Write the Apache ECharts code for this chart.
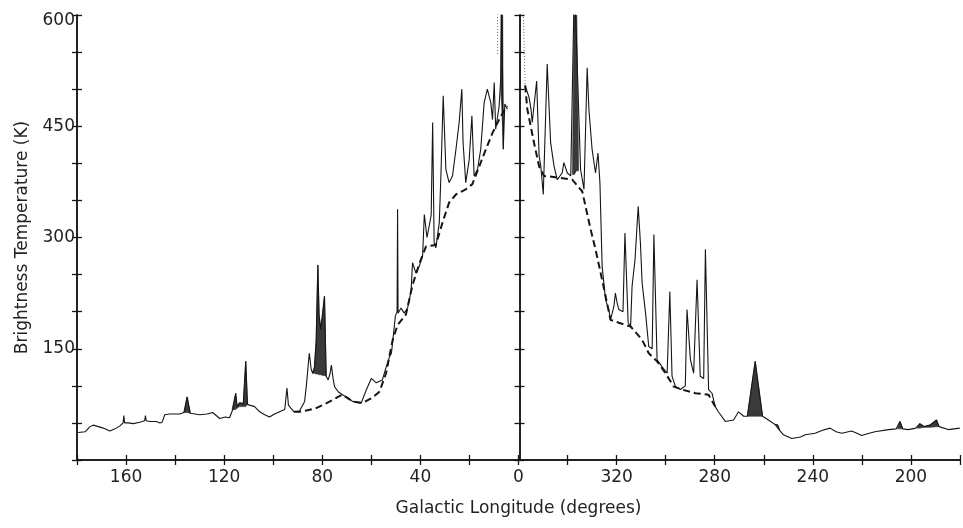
<!DOCTYPE html>
<html><head><meta charset="utf-8">
<script src="https://cdn.jsdelivr.net/npm/echarts@6/dist/echarts.min.js"></script>
<style>html,body{margin:0;padding:0;background:#fff}#c{width:963px;height:528px}</style>
</head><body><div id="c"></div>
<script>
// Tick labels shown on the longitude axis (degrees)
const tickLabels = [160, 120, 80, 40, 0, 320, 280, 240, 200];
const yTickLabels = [150, 300, 450, 600];

// Observed brightness temperature along the galactic plane (longitude deg, T in K); null = gap
const obsLon = [179.5,176.7,174.7,173.4,171.3,169.3,166.6,164.5,162.5,161.2,160.9,160.6,159.1,157.1,154.4,152.4,152.1,151.8,150.3,147.6,146.2,145.3,144.2,142.2,138.1,136.4,135.1,133.8,130,127,124.7,121.8,119.5,117.8,116.5,115.3,114.7,113.7,112.2,111.2,110.5,109.6,107.6,105.5,103.5,101.5,99.5,97.4,95.3,94.4,93.8,92.8,91.5,89.3,87.2,86.5,85.3,84.5,83.9,83.2,82.5,81.8,81.3,80.6,79.8,79.1,78.4,77.6,76.8,76.3,75.6,75,73.5,71.8,69.5,67.7,65,64.1,62,60,58,55.5,53.9,52.5,51.8,50.2,49.5,49.3,49.1,47.9,46.6,45.2,43.8,43.2,41.8,40.5,39.1,38.4,37.3,35.6,35,34.4,33.7,32.3,31.6,30.7,29.6,28.3,26.9,25.5,24.2,23.1,22.6,21.5,20.1,19,18.1,16.7,15.4,14,12.7,11.3,10.6,9.9,9.3,7.9,7.2,6.9,6.5,6.2,5.6,4.5,
  2,
  357.3,355.7,354.9,354.4,352.6,351.6,350.9,349.9,348.3,346.9,345.5,344.2,342.2,341.5,340.1,338.7,337.2,336.4,334.7,333.3,332,331.3,330,328.6,327.6,326.8,325.9,324.5,323.2,322.5,321.1,320.5,319.8,319.1,317.4,316.6,315.3,314.3,313.7,312.5,311.2,310.3,309.6,308.2,306.9,305.5,304.8,303.5,301.5,299.4,298.3,297.4,296,294,292,291.3,289.9,288.6,287.2,285.9,284.5,283.8,282.5,281.1,279.8,278.5,275.7,272.3,270.3,268.2,266.7,263.5,260.5,258.1,255.5,254.3,253.5,252,248.6,245,243.1,239.1,236,233,230.5,228.2,224.2,222,220.1,217,214.7,209.2,206,204.5,203.3,201.1,198,196.4,194.5,192.3,189.6,188.5,184.8,180.1];
const obsT = [37,38,45,47,45,43,39,42,46,50,60,50,50,49,51,53,60,53,52,52,50,51,61,62,62,64,85,63,61,62,64,56,58,57,68,90,72,77,76,133,75,74,72,65,61,58,62,65,68,97,74,70,65,66,79,100,144,122,117,125,160,263,195,176,200,221,113,108,117,128,110,99,92,88,84,79,77,77,95,110,104,108,126,140,144,194,200,338,198,205,198,205,228,266,252,261,275,331,300,330,455,293,286,320,387,491,392,374,383,419,455,500,428,374,405,464,383,392,419,482,500,482,459,509,446,477,516,650,650,419,480,473,
  null,
  505,489,473,455,511,410,396,358,534,428,396,378,387,401,387,383,650,650,392,365,529,473,419,387,414,374,261,216,203,189,207,225,212,203,200,306,185,180,234,270,342,293,239,198,153,150,304,135,126,117,227,113,99,95,100,203,135,117,243,113,110,284,95,90,72,65,52,54,65,59,59,133,59,54,48,47,40,34,29,31,34,36,40,43,38,36,39,36,33,36,38,41,42,52,42,41,43,49,45,47,54,45,41,43];

// Dashed background (continuum) curve near the inner galaxy
const baseLon = [91.5,89.3,86,82.5,79.8,75.7,73,71.8,67.7,63.6,59.6,56.7,54,51.3,49.3,45.9,43.2,40.5,37.7,33.7,31,28.3,25.5,21.5,18.8,16,13.3,10.6,7.9,5.9,4.5,
  2,
  357.3,356.4,353.7,351.6,349.6,344.2,338.1,334,330.6,328.6,326.5,324.5,322.5,319.1,314.3,309.6,306.9,303.5,300.1,296.7,293.3,287.9,282.5,279.8];
const baseT = [65,65,67,70,74,81,86,88,79,77,84,92,117,162,182,196,236,264,288,290,320,347,358,365,372,396,419,441,459,471,477,
  null,
  505,473,428,396,383,381,378,362,311,284,252,221,189,185,180,162,144,133,117,99,95,90,88,72];

// Dotted saturated traces near the galactic centre
const dotLon = [8.6, 8.5, 2, 358.4, 357.3];
const dotT = [650, 545, null, 650, 505];

// Shaded (discrete source) regions: longitude, upper and lower temperature
const fillLon = [
  [136.4,135.1,133.8],
  [116.8,115.3,114.7,113.7,112.2,111.2,110.5],
  [83.9,83.2,82.5,81.8,81.3,80.6,79.8,79.1,78.4],
  [7.3,6.9,6.5,6.2],
  [338.0,337.2,336.4,335.5],
  [266.7,263.5,260.5],
  [255.5,254.3,253.5],
  [205.5,204.5,203.3],
  [197.5,196.4,194.5,192.3,189.6,188.5]
];
const fillTop = [
  [64,85,63],
  [68,90,72,77,76,133,75],
  [117,125,160,263,195,176,200,221,113],
  [500,650,650,419],
  [385,650,650,390],
  [59,133,59],
  [48,47,40],
  [42,52,42],
  [43,49,45,47,54,45]
];
const fillBase = [
  [64,64,63],
  [68,68,70,72,72,72,75],
  [117,117,116,116,115,115,114,114,113],
  [500,480,450,419],
  [385,385,390,390],
  [59,59,59],
  [48,42,40],
  [42,42,42],
  [43,43,44,44,45,45]
];

// Map longitude (180..0 then 360..180) onto a continuous plotting coordinate
function lonToU(l) { return l <= 180 ? 180 - l : 540 - l; }
function uToLon(u) { return u <= 180 ? 180 - u : 540 - u; }
function pairs(lon, t) { return lon.map((l, i) => [lonToU(l), t[i] === null ? '-' : t[i]]); }

const FONT = 'DejaVu Sans';
const INK = '#151515';

const series = [];
series.push({
  type: 'custom', name: 'shaded', clip: true, z: 1, animation: false, silent: true,
  data: fillLon.map((lon, i) => [lonToU(lon[0]), i]),
  renderItem: function (params, api) {
    const i = params.dataIndex;
    const lon = fillLon[i];
    const pts = [];
    for (let j = 0; j < lon.length; j++) pts.push(api.coord([lonToU(lon[j]), fillTop[i][j]]));
    for (let j = lon.length - 1; j >= 0; j--) pts.push(api.coord([lonToU(lon[j]), fillBase[i][j]]));
    return { type: 'polygon', shape: { points: pts }, style: { fill: '#3a3a3a', stroke: '#2a2a2a', lineWidth: 0.6 } };
  }
});
series.push({
  type: 'line', name: 'dotted', data: pairs(dotLon, dotT), symbol: 'none', connectNulls: false,
  lineStyle: { width: 1, color: '#666', type: [1, 2] }, z: 2, animation: false
});
series.push({
  type: 'line', name: 'baseline', data: pairs(baseLon, baseT), symbol: 'none', connectNulls: false,
  lineStyle: { width: 2, color: INK, type: [7, 4] }, z: 3, animation: false
});
series.push({
  type: 'line', name: 'observed', data: pairs(obsLon, obsT), symbol: 'none', connectNulls: false,
  lineStyle: { width: 1.1, color: INK }, z: 4, animation: false
});

const axisLine = { show: true, lineStyle: { color: INK, width: 1.5 } };
const tickIn = { show: true, inside: true, length: 5, lineStyle: { color: INK, width: 1.3 } };

const chart = echarts.init(document.getElementById('c'), null, { renderer: 'canvas' });
chart.setOption({
  backgroundColor: '#ffffff',
  animation: false,
  grid: { left: 77, right: 1, top: 15, bottom: 68, containLabel: false },
  xAxis: [
    {
      type: 'value', position: 'bottom', min: 0, max: 360, interval: 20,
      axisLine: axisLine, axisTick: tickIn, splitLine: { show: false },
      axisLabel: {
        margin: 9, fontFamily: FONT, fontSize: 17, color: '#222',
        formatter: v => { const l = Math.round(uToLon(v)); return (v > 0 && v < 360 && tickLabels.includes(l)) ? String(l) : ''; }
      },
      name: 'Galactic Longitude (degrees)', nameLocation: 'middle', nameGap: 40,
      nameTextStyle: { fontFamily: FONT, fontSize: 17, color: '#222' }
    },
    {
      type: 'value', position: 'top', min: 0, max: 360, interval: 20,
      axisLine: axisLine, axisTick: tickIn, splitLine: { show: false }, axisLabel: { show: false }
    }
  ],
  yAxis: [
    {
      type: 'value', position: 'left', min: 0, max: 600, interval: 50,
      axisLine: axisLine, axisTick: tickIn, splitLine: { show: false },
      axisLabel: {
        margin: 2, fontFamily: FONT, fontSize: 17, color: '#222',
        formatter: v => yTickLabels.includes(v) ? (v === 600 ? '{top|' + v + '}' : String(v)) : '',
        rich: { top: { fontFamily: FONT, fontSize: 17, color: '#222', padding: [11, 0, 0, 0] } }
      },
      name: 'Brightness Temperature (K)', nameLocation: 'middle', nameGap: 46,
      nameTextStyle: { fontFamily: FONT, fontSize: 17, color: '#222' }
    },
    {
      type: 'value', position: 'right', min: 0, max: 600, interval: 50,
      axisLine: axisLine, axisTick: tickIn, splitLine: { show: false }, axisLabel: { show: false }
    },
    {
      type: 'value', position: 'left', offset: -442.5, min: 0, max: 600, interval: 50,
      axisLine: axisLine, axisTick: tickIn, splitLine: { show: false }, axisLabel: { show: false }
    },
    {
      type: 'value', position: 'left', offset: -442.5, min: 0, max: 600, interval: 50,
      axisLine: axisLine, axisTick: { show: true, inside: false, length: 5, lineStyle: { color: INK, width: 1.3 } },
      splitLine: { show: false }, axisLabel: { show: false }
    }
  ],
  series: series
});
</script>
</body></html>
